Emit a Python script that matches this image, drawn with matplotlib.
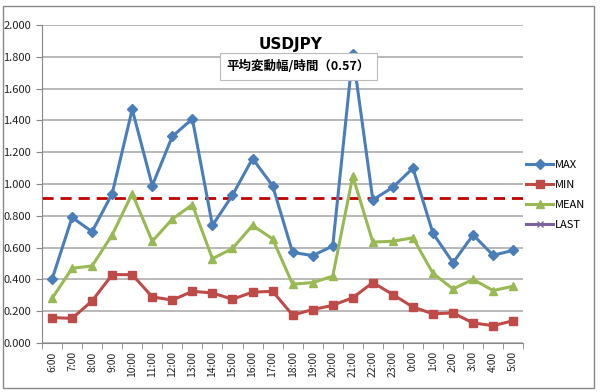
import matplotlib
matplotlib.use("Agg")
import matplotlib.pyplot as plt
import numpy as np
from matplotlib.patches import Rectangle

plt.rcParams['font.family'] = ['Noto Sans CJK JP', 'DejaVu Sans']

hours = ["6:00", "7:00", "8:00", "9:00", "10:00", "11:00", "12:00", "13:00", "14:00",
         "15:00", "16:00", "17:00", "18:00", "19:00", "20:00", "21:00", "22:00", "23:00",
         "0:00", "1:00", "2:00", "3:00", "4:00", "5:00"]
max_vals = [0.40, 0.79, 0.70, 0.94, 1.47, 0.99, 1.30, 1.41, 0.74, 0.93, 1.16, 0.99,
            0.57, 0.55, 0.61, 1.82, 0.90, 0.98, 1.10, 0.69, 0.505, 0.68, 0.552, 0.583]
min_vals = [0.16, 0.155, 0.265, 0.43, 0.43, 0.29, 0.27, 0.325, 0.315, 0.275, 0.32, 0.325,
            0.176, 0.21, 0.237, 0.285, 0.38, 0.305, 0.226, 0.184, 0.189, 0.126, 0.109, 0.14]
mean_vals = [0.28, 0.47, 0.485, 0.68, 0.94, 0.64, 0.78, 0.87, 0.53, 0.595, 0.74, 0.655,
             0.37, 0.38, 0.42, 1.05, 0.635, 0.64, 0.662, 0.438, 0.34, 0.40, 0.33, 0.357]
last_vals = [np.nan] * 24
ref_level = 0.91
title = "USDJPY"
subtitle = "平均変動幅/時間（0.57）"

fig = plt.figure(figsize=(6.0, 3.92), dpi=100)
ax = fig.add_axes([0.07, 0.125, 0.802, 0.811])

x = np.arange(len(hours))
ax.plot(x, max_vals, color="#4A7EBB", lw=2.2, marker="D", ms=5, label="MAX", zorder=3)
ax.plot(x, min_vals, color="#BE4B48", lw=2.2, marker="s", ms=5.5, label="MIN", zorder=3)
ax.plot(x, mean_vals, color="#98B954", lw=2.2, marker="^", ms=6, label="MEAN", zorder=3)
ax.plot(x, last_vals, color="#7D60A0", lw=2.2, marker="x", ms=5, label="LAST", zorder=3)
ax.axhline(ref_level, color="#C00000", lw=2, ls=(0, (4, 2.5)), zorder=2)

ax.set_xlim(-0.5, len(hours) - 0.5)
ax.set_ylim(0, 2.0)
ax.set_yticks(np.arange(0, 2.01, 0.2))
ax.set_yticklabels([f"{v:.3f}" for v in np.arange(0, 2.01, 0.2)], fontsize=8, color="#222222")
ax.set_xticks(x)
ax.set_xticklabels(hours, rotation=90, fontsize=7.5, color="#222222")
ax.tick_params(axis='x', length=0, pad=6)
ax.set_xticks(np.arange(-0.5, len(hours), 1), minor=True)
ax.tick_params(axis='x', which='minor', length=4, color="#888888", direction='out')
ax.tick_params(axis='y', length=4, color="#888888", pad=4)
ax.yaxis.grid(True, color="#A6A6A6", lw=1.1)
ax.set_axisbelow(True)
for s in ["top", "right"]:
    ax.spines[s].set_visible(False)
ax.spines["left"].set_color("#888888")
ax.spines["bottom"].set_color("#888888")

fig.text(0.484, 0.886, title, ha="center", va="center", fontsize=11, fontweight="bold",
         family=["DejaVu Sans"])
fig.text(0.497, 0.83, subtitle, ha="center", va="center", fontsize=9, fontweight="bold",
         bbox=dict(boxstyle="square,pad=0.55", fc="white", ec="#BBBBBB", lw=0.8))

leg = fig.legend(loc="upper left", bbox_to_anchor=(0.87, 0.604), frameon=False, fontsize=8,
                 handlelength=2.4, labelspacing=0.9, handletextpad=0.2, borderaxespad=0)

fig.add_artist(Rectangle((0.005, 0.01), 0.985, 0.975, transform=fig.transFigure,
                         fill=False, ec="#888888", lw=1))
fig.savefig("out.png", dpi=100)
